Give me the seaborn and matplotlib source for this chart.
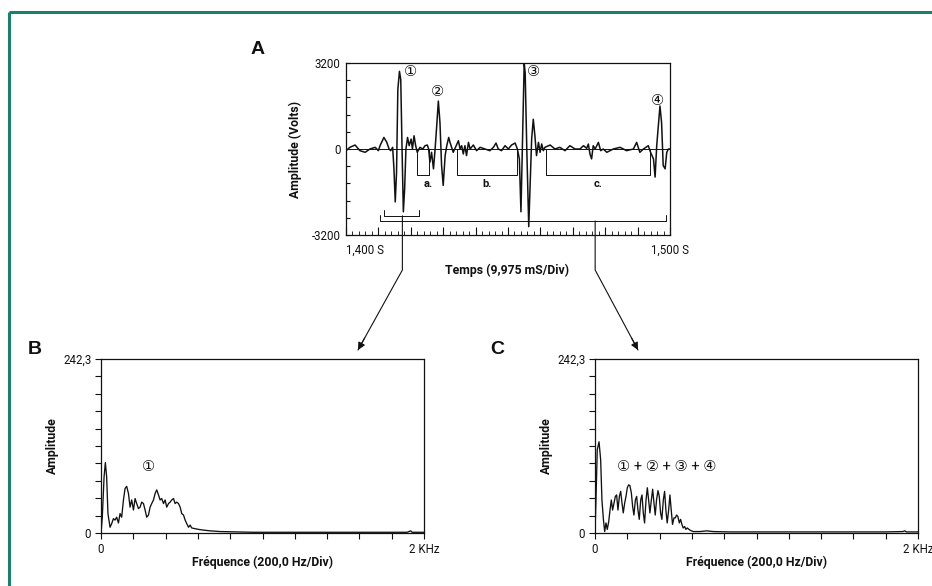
import numpy as np
import pandas as pd
import matplotlib
matplotlib.use("Agg")
import matplotlib.pyplot as plt
import seaborn as sns
from matplotlib.lines import Line2D
from matplotlib import font_manager
from matplotlib.patches import FancyArrowPatch

# ---------------- data ----------------
# Panel A : waveform, time in ms after 1,400 S, amplitude in volts
wave_t = [0, 1.2, 2.8, 4.3, 5.9, 7.4, 9.0, 10.0, 10.5, 11.7, 12.6, 13.3, 13.8, 14.4,
          14.8, 15.2, 15.6, 16.0, 16.5, 16.9, 17.3, 17.7, 18.1, 18.5, 19.0, 19.5,
          20.1, 20.5, 21.0, 21.5, 22.0, 22.8, 23.7, 24.4, 25.1, 25.5, 25.9, 26.4,
          27.0, 27.5, 28.0, 28.5, 29.0, 29.5, 30.0, 30.6, 31.1, 31.7, 32.1, 33.1,
          34.0, 34.7, 35.2, 35.7, 36.2, 36.7, 37.2, 37.8, 38.3, 39.3, 40.3, 41.4,
          42.9, 44.4, 45.5, 46.3, 47.0, 48.0, 49.1, 50.1, 51.1, 52.2, 52.9, 53.5,
          54.0, 54.5, 55.0, 55.3, 55.8, 56.4, 56.8, 57.3, 57.8, 58.3, 58.8, 59.4,
          59.9, 60.4, 60.9, 61.4, 63.0, 64.5, 66.0, 67.6, 69.1, 70.7, 72.2, 73.3,
          74.3, 74.8, 75.3, 75.8, 76.3, 76.9, 77.9, 78.6, 79.4, 80.5, 82.5, 84.6,
          86.6, 88.7, 89.7, 90.7, 91.8, 93.3, 94.0, 94.9, 95.4, 95.9, 96.4, 96.9,
          97.4, 97.9, 98.5, 99.0, 99.5, 100.0]
wave_v = [-62, 62, 148, -62, -123, 0, 62, -62, 123, 430, 246, 0, -62, 62,
          -738, -1968, -861, 2214, 2890, 2583, 0, -2337, -1476, 0, 430, 123,
          369, 0, 492, 123, -123, 62, 0, 123, 148, 0, -492, -123,
          -738, 0, 861, 1784, 984, -615, -1353, -246, 123, 430, 246, -123,
          123, 308, 0, 123, -185, 123, -246, 246, 0, 148, -62, 62,
          0, -62, 62, 221, 0, -62, 123, 0, 148, 221, 0, -369,
          -2337, 369, 3200, 2829, 0, -2890, -1476, 369, 1107, 492, -246, 246,
          -123, 185, -62, 62, 148, 0, 62, -62, 123, 0, 0, 123,
          25, 185, -185, -369, 123, 0, 246, -62, 0, -123, 0, 62,
          -62, 0, 246, -123, 0, 123, -123, -369, -1045, 123, 861, 1599,
          984, -615, -738, -123, 0, 0]

# Panel B : spectrum of pulse 1 (Hz, amplitude)
specB_f = [0, 8, 19, 27, 35, 43, 56, 66, 77, 87, 97, 108, 118, 128, 139, 149, 159,
           170, 180, 190, 201, 211, 221, 232, 242, 252, 263, 273, 283, 294, 304,
           314, 325, 335, 345, 356, 366, 376, 387, 397, 407, 418, 428, 438, 449,
           459, 469, 480, 490, 500, 511, 521, 531, 542, 552, 562, 583, 604, 635,
           676, 738, 842, 945, 1100, 1300, 1500, 1700, 1896, 1917, 1927, 2000]
specB_a = [0, 22, 78, 98, 78, 27, 8, 13, 20, 18, 22, 14, 27, 22, 46, 62, 65,
           55, 36, 46, 32, 48, 41, 34, 36, 43, 41, 32, 22, 25, 36,
           41, 46, 55, 60, 53, 46, 48, 41, 46, 36, 41, 43, 46, 48,
           41, 43, 41, 36, 27, 25, 18, 13, 8, 11, 7, 6, 5, 4,
           3, 2, 1.5, 1, 1, 1, 1, 1, 1, 3, 1, 1]

# Panel C : spectrum of pulses 1+2+3+4 (Hz, amplitude)
specC_f = [0, 6, 14, 25, 35, 43, 52, 60, 68, 76, 85, 93, 101, 109, 118, 126, 134,
           142, 151, 159, 167, 175, 184, 192, 200, 208, 216, 225, 233, 241, 250,
           258, 266, 274, 283, 291, 299, 307, 316, 324, 332, 340, 349, 357, 365,
           373, 381, 390, 398, 406, 414, 423, 431, 439, 447, 456, 464, 472, 480,
           489, 497, 505, 513, 522, 530, 538, 546, 555, 563, 571, 588, 608, 650,
           691, 732, 835, 1000, 1200, 1400, 1600, 1800, 1907, 1918, 1928, 2000]
specC_a = [0, 46, 116, 127, 102, 46, 19, 2, 14, 5, 16, 32, 46, 32, 42, 51, 53,
           32, 51, 58, 42, 28, 42, 51, 63, 67, 66, 56, 37, 25, 46,
           51, 32, 19, 46, 53, 28, 14, 46, 63, 46, 28, 46, 61, 42,
           25, 46, 59, 51, 28, 19, 46, 58, 32, 14, 32, 53, 32, 12,
           21, 21, 25, 23, 14, 19, 12, 7, 9, 5, 7, 4, 2, 2,
           3, 2, 1.5, 1.5, 1.5, 1.5, 1.5, 1.5, 2, 3, 1.5, 1.5]

# annotation brackets on panel A (time ms, level V)
brackets_abc = [("a.", 21.8, 25.7), ("b.", 34.2, 52.7), ("c.", 61.7, 93.8)]
bracket_level = -960
pulse1_window = (11.7, 22.6, -2485, 17.4)   # start, end, level, connector time
full_window = (10.5, 98.8, -2680, 76.9)
pulse_labels = [("①", 19.8, 2900), ("②", 28.2, 2150), ("③", 58.0, 2900), ("④", 96.0, 1800)]

# ---------------- style ----------------
sns.set_theme(style="white")
names = {f.name for f in font_manager.fontManager.ttflist}
if "Liberation Sans Narrow" in names:
    MAIN = ["Liberation Sans Narrow", "DejaVu Sans"]
    LBL = 9.5
else:
    MAIN = ["Roboto", "DejaVu Sans"]
    LBL = 8.8
plt.rcParams["font.family"] = MAIN
plt.rcParams["axes.linewidth"] = 0.9
CIRC = ["DejaVu Sans", "Noto Sans CJK SC"]
CIRC_SUM = ["Roboto", "DejaVu Sans", "Noto Sans CJK SC"]
INK = "#111111"

W, H = 932, 586
fig = plt.figure(figsize=(W / 100, H / 100), dpi=100)
fig.patch.set_facecolor("white")

def px_axes(x0, y0, x1, y1):
    return fig.add_axes([x0 / W, 1 - y1 / H, (x1 - x0) / W, (y1 - y0) / H])

axA = px_axes(346, 63, 670, 235)
axB = px_axes(101, 359, 424, 533)
axC = px_axes(595, 359, 918, 533)

for ax in (axA, axB, axC):
    ax.set_facecolor("white")
    for s in ax.spines.values():
        s.set_color(INK)
        s.set_linewidth(0.9)
        s.set_visible(True)

# ---------------- panel A ----------------
dfA = pd.DataFrame({"t": wave_t, "v": wave_v})
sns.lineplot(data=dfA, x="t", y="v", ax=axA, color=INK, lw=1.1, estimator=None, sort=False)
axA.axhline(0, color=INK, lw=0.7, zorder=1)
axA.set_xlim(0, 100)
axA.set_ylim(-3200, 3200)
axA.set_xlabel("Temps (9,975 mS/Div)", fontsize=LBL, fontweight="bold", color=INK, va="center")
axA.set_ylabel("Amplitude (Volts)", fontsize=LBL, fontweight="bold", color=INK, va="center")
axA.xaxis.set_label_coords(0.497, -0.203)
axA.yaxis.set_label_coords(-0.157, 0.5)
axA.set_xticks(np.arange(0, 101, 10))
axA.set_xticks(np.arange(0, 101, 2), minor=True)
axA.set_xticklabels(["1,400 S"] + [""] * 9 + ["1,500 S"])
axA.get_xticklabels()[0].set_ha("left")
axA.set_yticks([-3200, 0, 3200])
axA.set_yticklabels(["-3200", "0", "3200"])
axA.set_yticks(np.arange(-3200, 3201, 640), minor=True)
axA.tick_params(axis="x", which="major", direction="in", length=6, width=0.8, pad=6,
                labelsize=8.3, colors=INK, bottom=True)
axA.tick_params(axis="x", which="minor", direction="in", length=3, width=0.7, bottom=True)
axA.tick_params(axis="y", which="both", direction="in", length=3, width=0.8, pad=4,
                labelsize=8.3, colors=INK, left=True)

for lab, t0, t1 in brackets_abc:
    axA.plot([t0, t0, t1, t1], [0, bracket_level, bracket_level, 0], color=INK, lw=0.7)
    axA.text((t0 + t1) / 2 + (1.5 if lab == "a." else 0), bracket_level - 150, lab,
             ha="center", va="top", fontsize=8, fontweight="bold", color=INK)
for (t0, t1, lvl, _) in (pulse1_window, full_window):
    axA.plot([t0, t0, t1, t1], [lvl + 220, lvl, lvl, lvl + 220], color=INK, lw=0.7)

for lab, t, v in pulse_labels:
    axA.text(t, v, lab, ha="center", va="center", fontsize=10.5, family=CIRC, color=INK)

# ---------------- panels B and C ----------------
def spectrum(ax, f, a, label_f, label_a, txt, fam):
    df = pd.DataFrame({"f": f, "a": a})
    sns.lineplot(data=df, x="f", y="a", ax=ax, color=INK, lw=0.95, estimator=None, sort=False)
    ax.set_xlim(0, 2000)
    ax.set_ylim(0, 242.3)
    ax.set_xlabel("Fréquence (200,0 Hz/Div)", fontsize=LBL, fontweight="bold", color=INK, va="center")
    ax.set_ylabel("Amplitude", fontsize=LBL, fontweight="bold", color=INK, va="center")
    ax.xaxis.set_label_coords(0.5, -0.167)
    ax.yaxis.set_label_coords(-0.151, 0.5)
    ax.set_xticks([0, 2000])
    ax.set_xticklabels(["0", "2 KHz"])
    ax.set_xticks(np.arange(0, 2001, 200), minor=True)
    ax.set_yticks([0, 242.3])
    ax.set_yticklabels(["0", "242,3"])
    ax.set_yticks(np.linspace(0, 242.3, 11), minor=True)
    ax.tick_params(axis="both", which="both", direction="out", length=4, width=0.8,
                   pad=3, labelsize=8.3, colors=INK, bottom=True, left=True)
    ax.text(label_f, label_a, txt, ha="center", va="center", fontsize=10.5, family=fam, color=INK)

spectrum(axB, specB_f, specB_a, 291, 92, "①", CIRC)
spectrum(axC, specC_f, specC_a, 446, 92, "① + ② + ③ + ④", CIRC_SUM)

# ---------------- panel letters ----------------
for txt, x, y in [("A", 258, 50), ("B", 35, 349), ("C", 497, 349)]:
    fig.text(x / W, 1 - y / H, txt, fontsize=14, fontweight="bold",
             family=["Liberation Sans", "DejaVu Sans"],
             ha="center", va="center", color=INK)

# ---------------- connectors with arrows ----------------
fig.canvas.draw()
for win, tip in [(pulse1_window, (358, 350)), (full_window, (638, 350))]:
    x0, y0 = axA.transData.transform((win[3], win[2]))
    yk = H - 270
    tx, ty = tip[0], H - tip[1]
    fig.add_artist(Line2D([x0, x0, tx], [y0, yk, ty], transform=None, color=INK, lw=0.8))
    fig.patches.append(FancyArrowPatch(
        (x0 + (tx - x0) * 0.85, yk + (ty - yk) * 0.85), (tx, ty),
        transform=None, arrowstyle="-|>", mutation_scale=11, color=INK, lw=0.8,
        shrinkA=0, shrinkB=0, figure=fig))

# ---------------- green frame ----------------
GREEN = "#1a7f6b"
fig.add_artist(Line2D([9 / W, 1.0], [1 - 12 / H, 1 - 12 / H], transform=fig.transFigure,
                      color=GREEN, lw=2.2, solid_capstyle="butt"))
fig.add_artist(Line2D([9 / W, 9 / W], [1 - 12 / H, 0.0], transform=fig.transFigure,
                      color=GREEN, lw=2.2, solid_capstyle="butt"))

fig.savefig("out.png", dpi=100, facecolor="white")
